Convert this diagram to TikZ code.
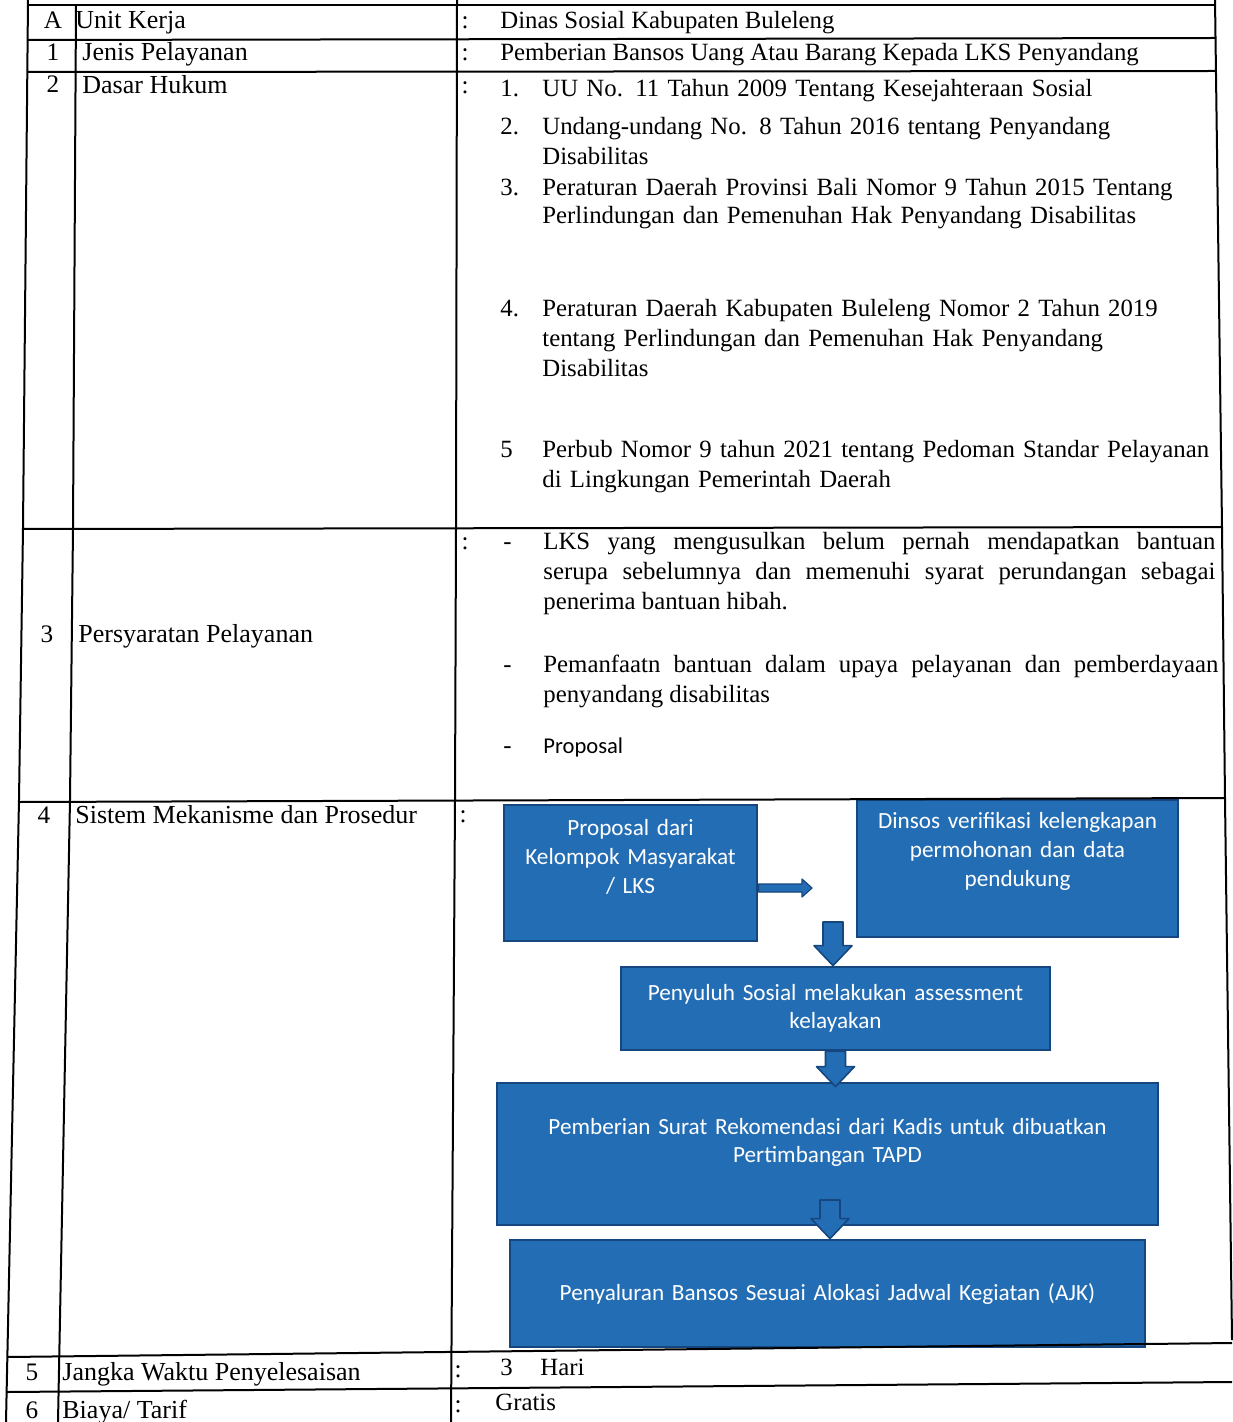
\documentclass[tikz,border=0pt]{standalone}
\usepackage{fontspec}
\setmainfont{Liberation Serif}
\newfontfamily\calibrifont{Carlito}
\usetikzlibrary{calc}

\definecolor{boxblue}{RGB}{35,109,181}
\definecolor{boxedge}{RGB}{22,70,126}

\begin{document}
\begin{tikzpicture}[x=0.5pt, y=-0.5pt,
    cell/.style={font=\fontsize{12.4}{15}\selectfont, anchor=base west, inner sep=0pt},
    head/.style={font=\fontsize{13}{15}\selectfont, anchor=base west, inner sep=0pt},
    num/.style={font=\fontsize{12.6}{15}\selectfont, anchor=base, inner sep=0pt},
    item/.style={cell, text width=#1, align=left},
    flowbox/.style={fill=boxblue, draw=boxedge, line width=1.4pt, text=white,
        font=\calibrifont\fontsize{11.6}{14.3}\selectfont, align=center, inner sep=0pt},
    lift/.style={execute at end node={\endgraf\vspace*{#1}}},
    downarrow/.style={draw=boxedge, fill=boxblue, line width=0.8pt, line join=round,
        to path={let \p1=(\tikztostart), \p2=(\tikztotarget) in
            (\x1-5pt,\y1) -- (\x1+5pt,\y1) -- (\x1+5pt,\y2+10pt) -- (\x1+9.5pt,\y2+10pt)
            -- (\x1,\y2) -- (\x1-9.5pt,\y2+10pt) -- (\x1-5pt,\y2+10pt) -- cycle}},
    rightarrow/.style={draw=boxedge, fill=boxblue, line width=0.6pt, line join=round,
        to path={let \p1=(\tikztostart), \p2=(\tikztotarget) in
            (\x1,\y1-2pt) -- (\x2-5pt,\y1-2pt) -- (\x2-5pt,\y1-4.5pt) -- (\x2,\y1)
            -- (\x2-5pt,\y1+4.5pt) -- (\x2-5pt,\y1+2pt) -- (\x1,\y1+2pt) -- cycle}}]
    \useasboundingbox[fill=white] (0,0) rectangle (1232,1422);

    % Flowchart boxes
    \node[flowbox, text width=126.5pt, minimum height=68pt, lift=16pt] (b1) at (630.5,873)
        {Proposal dari\\Kelompok Masyarakat\\/ LKS};
    \node[flowbox, text width=160.5pt, minimum height=68.5pt, lift=17pt] (b2) at (1017.5,868.5)
        {Dinsos verifikasi kelengkapan\\permohonan dan data\\pendukung};
    \node[flowbox, text width=214.5pt, minimum height=41.5pt] (b3) at (835.5,1008.5)
        {Penyuluh Sosial melakukan assessment\\kelayakan};
    \node[flowbox, text width=330.5pt, minimum height=71pt, lift=11.5pt] (b4) at (827.5,1154)
        {Pemberian Surat Rekomendasi dari Kadis untuk dibuatkan\\Pertimbangan TAPD};
    \node[flowbox, text width=317.5pt, minimum height=53.5pt] (b5) at (827.5,1293.5)
        {Penyaluran Bansos Sesuai Alokasi Jadwal Kegiatan (AJK)};

    % Block arrows
    \coordinate (a0) at (812,888);
    \coordinate (d1) at (833,922);
    \coordinate (d3) at (830,1200);
    \draw[rightarrow] (b1.east |- a0) to (a0);
    \draw[downarrow] (d1) to (d1 |- b3.north);
    \draw[downarrow] (b3.south) to ([yshift=-2.5pt]b3.south |- b4.north);
    \draw[downarrow] (d3) to (d3 |- b5.north);

    % Table frame (the scan is slightly skewed)
    \draw[line width=1pt] (28,0) -- (23,528) -- (19,800) -- (6,1422);
    \draw[line width=1pt] (76,5) -- (73,528) -- (70,800) -- (58,1422);
    \draw[line width=1pt] (457,0) -- (456,528) -- (455,800) -- (451,1422);
    \draw[line width=1pt] (1215,0) -- (1222,528) -- (1225,800) -- (1232,1340);
    \draw[line width=1pt] (28,5) -- (1215,5);
    \draw[line width=1pt] (28,40) -- (1215,38);
    \draw[line width=1pt] (27,72) -- (1216,71);
    \draw[line width=1pt] (23,529) -- (1222,527);
    \draw[line width=1pt] (19,802) -- (1225,798);
    \draw[line width=1pt] (7,1357) -- (1232,1343);
    \draw[line width=1pt] (7,1392) -- (1232,1382);

    % Row numbers and colons
    \foreach \n/\x/\y in {A/53/29, 1/53/61, 2/53/93, 3/47/642, 4/44/823, 5/32/1380, 6/32/1418}
        \node[num] (no\n) at (\x,\y) {\n};
    \foreach \n/\x/\y in {A/465/29, 1/465/61, 2/465/94, 3/465/549, 4/463/822, 5/458/1377, 6/458/1412}
        \node[num] (colon\n) at (\x,\y) {:};

    % Row headings
    \node[head] (hA) at (75,29) {Unit Kerja};
    \node[head] (h1) at (82,61) {Jenis Pelayanan};
    \node[head] (h2) at (82,94) {Dasar Hukum};
    \node[head] (h3) at (78,642) {Persyaratan Pelayanan};
    \node[head] (h4) at (75,823) {Sistem Mekanisme dan Prosedur};
    \node[head] (h5) at (62,1380) {Jangka Waktu Penyelesaisan};
    \node[head] (h6) at (62,1418) {Biaya/ Tarif};

    % Values
    \node[cell] (vA) at (500,29) {Dinas Sosial Kabupaten Buleleng};
    \node[cell] (v1) at (500,61) {Pemberian Bansos Uang Atau Barang Kepada LKS Penyandang};
    \node[cell] (v5) at (500,1375) {\makebox[20pt][l]{3}Hari};
    \node[cell] (v6) at (495,1410) {Gratis};

    % Dasar hukum
    \node[cell] (n1) at (500,97) {1.};
    \node[item=350pt] (law1) at (542,97) {UU No. 11 Tahun 2009 Tentang Kesejahteraan Sosial};
    \node[cell] (n2) at (500,135) {2.};
    \node[item=350pt] (law2) at (542,135)
        {Undang-undang No. 8 Tahun 2016 tentang Penyandang\\Disabilitas};
    \node[cell] (n3) at (500,196) {3.};
    \node[item=350pt, font=\fontsize{12.4}{14}\selectfont] (law3) at (542,196)
        {Peraturan Daerah Provinsi Bali Nomor 9 Tahun 2015 Tentang\\Perlindungan dan Pemenuhan Hak Penyandang Disabilitas};
    \node[cell] (n4) at (500,317) {4.};
    \node[item=350pt] (law4) at (542,317)
        {Peraturan Daerah Kabupaten Buleleng Nomor 2 Tahun 2019\\tentang Perlindungan dan Pemenuhan Hak Penyandang\\Disabilitas};
    \node[cell] (n5) at (500,458) {5};
    \node[item=350pt] (law5) at (542,458)
        {Perbub Nomor 9 tahun 2021 tentang Pedoman Standar Pelayanan\\di Lingkungan Pemerintah Daerah};

    % Persyaratan
    \node[cell] (dash1) at (503,549) {-};
    \node[cell, text width=336pt, align=justify] (req1) at (543,549)
        {LKS yang mengusulkan belum pernah mendapatkan bantuan\linebreak
         serupa sebelumnya dan memenuhi syarat perundangan sebagai\linebreak
         penerima bantuan hibah.};
    \node[cell] (dash2) at (503,672) {-};
    \node[cell, text width=337.5pt, align=justify] (req2) at (543,672)
        {Pemanfaatn bantuan dalam upaya pelayanan dan pemberdayaan\linebreak
         penyandang disabilitas};
    \node[cell] (dash3) at (503,753) {-};
    \node[cell, font=\calibrifont\fontsize{11.3}{14}\selectfont] (req3) at (543,753) {Proposal};
\end{tikzpicture}
\end{document}
